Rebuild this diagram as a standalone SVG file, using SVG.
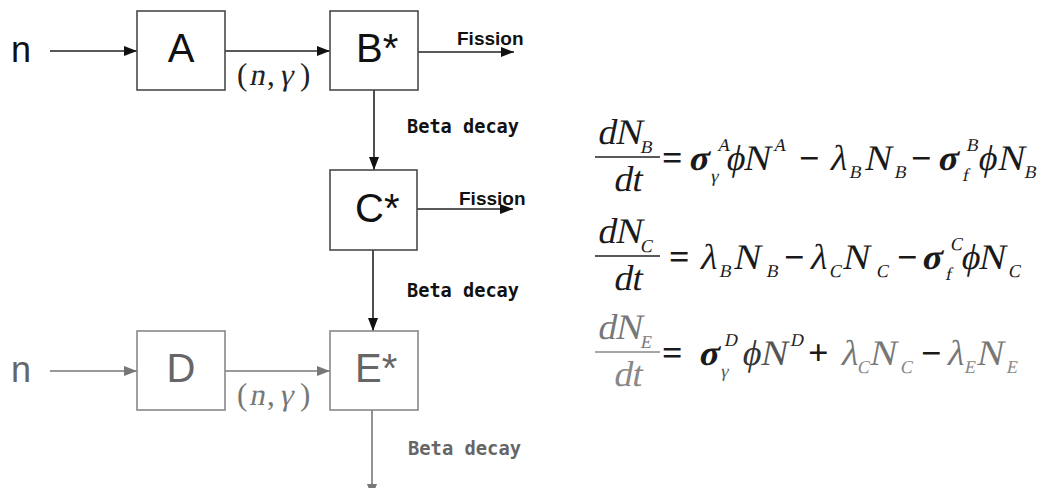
<svg xmlns="http://www.w3.org/2000/svg" width="1040" height="488" viewBox="0 0 1040 488">
<defs>
<marker id="ah" markerUnits="userSpaceOnUse" markerWidth="14" markerHeight="10" refX="13" refY="5" orient="auto"><path d="M0,0 L13,5 L0,10 z" fill="#111"/></marker>
<marker id="ahg" markerUnits="userSpaceOnUse" markerWidth="14" markerHeight="10" refX="13" refY="5" orient="auto"><path d="M0,0 L13,5 L0,10 z" fill="#777"/></marker>
<style>
.box{fill:#fff;stroke:#4a4a4a;stroke-width:1.6}
.boxg{fill:#fff;stroke:#888;stroke-width:1.6}
.ln{fill:none;stroke:#222;stroke-width:1.6}
.lng{fill:none;stroke:#777;stroke-width:1.6}
.big{font-family:"Liberation Sans",Arial,sans-serif;font-size:40px;fill:#111}
.bigg{font-family:"Liberation Sans",Arial,sans-serif;font-size:40px;fill:#666}
.n{font-family:"Liberation Sans",Arial,sans-serif;font-size:36px;fill:#111}
.ng{font-family:"Liberation Sans",Arial,sans-serif;font-size:36px;fill:#666}
.fis{font-family:"Liberation Sans",Arial,sans-serif;font-size:19px;font-weight:bold;fill:#111}
.beta{font-family:"DejaVu Sans Mono","Liberation Mono",monospace;font-size:20px;font-weight:bold;fill:#111}
.betag{font-family:"DejaVu Sans Mono","Liberation Mono",monospace;font-size:20px;font-weight:bold;fill:#666}
.ng2{font-family:"Liberation Serif","Times New Roman",serif;font-size:31px;fill:#222}
.ng2g{font-family:"Liberation Serif","Times New Roman",serif;font-size:31px;fill:#777}
.eq{font-family:"Liberation Serif","Times New Roman",serif;font-size:36px;fill:#1a1a1a}
.op{font-weight:bold}
.s{font-size:18px}
.gk{font-weight:bold}
.bar{stroke:#222;stroke-width:1.6}
.g5{fill:#555}.g7{fill:#777}.g8{fill:#888}.g2{fill:#222}.g3{fill:#333}
</style>
</defs>

<g id="connectors">
<path class="ln" d="M50,51 H137" marker-end="url(#ah)"/>
<path class="ln" d="M225,51 H330" marker-end="url(#ah)"/>
<path class="ln" d="M418,52 H514" marker-end="url(#ah)"/>
<path class="ln" d="M374,90 V170" marker-end="url(#ah)"/>
<path class="ln" d="M417,209 H513" marker-end="url(#ah)"/>
<path class="ln" d="M373,250 V331" marker-end="url(#ah)"/>
<path class="lng" d="M50,371 H137" marker-end="url(#ahg)"/>
<path class="lng" d="M225,371 H330" marker-end="url(#ahg)"/>
<path class="lng" d="M372,410 V497" marker-end="url(#ahg)"/>
</g>

<g id="labels">
<text class="n" x="11" y="62">n</text>
<text class="ng" x="11" y="382">n</text>
<text class="ng2" x="237" y="85">(</text>
<text class="ng2" x="249" y="85" transform="matrix(1 0 -0.2 1 17 0)">n</text>
<text class="ng2" x="267" y="85">,</text>
<text class="ng2" x="279" y="85" transform="matrix(1 0 -0.2 1 17 0)">γ</text>
<text class="ng2" x="300" y="85">)</text>
<text class="ng2g" x="237" y="405">(</text>
<text class="ng2g" x="249" y="405" transform="matrix(1 0 -0.2 1 81 0)">n</text>
<text class="ng2g" x="267" y="405">,</text>
<text class="ng2g" x="279" y="405" transform="matrix(1 0 -0.2 1 81 0)">γ</text>
<text class="ng2g" x="300" y="405">)</text>
<text class="fis" x="457" y="45">Fission</text>
<text class="fis" x="459" y="205">Fission</text>
<text class="beta" x="407" y="133" textLength="112" lengthAdjust="spacingAndGlyphs">Beta decay</text>
<text class="beta" x="407" y="297" textLength="112" lengthAdjust="spacingAndGlyphs">Beta decay</text>
<text class="betag" x="408" y="455" textLength="113" lengthAdjust="spacingAndGlyphs">Beta decay</text>
</g>

<g id="node-A"><rect class="box" x="137" y="11" width="88" height="79"/><text class="big" x="181" y="62" text-anchor="middle">A</text></g>
<g id="node-B"><rect class="box" x="330" y="11" width="88" height="79"/><text class="big" x="356" y="62">B*</text></g>
<g id="node-C"><rect class="box" x="330" y="170" width="87" height="80"/><text class="big" x="355" y="222">C*</text></g>
<g id="node-D"><rect class="boxg" x="137" y="331" width="88" height="79"/><text class="bigg" x="181" y="382" text-anchor="middle">D</text></g>
<g id="node-E"><rect class="boxg" x="330" y="331" width="88" height="79"/><text class="bigg" x="355" y="382">E*</text></g>

<g id="equations">
<!-- eq1 -->
<text class="eq" x="597" y="144" transform="matrix(1 0 -0.2 1 28.8 0)">dN</text>
<text class="eq s" x="640" y="153" transform="matrix(1 0 -0.2 1 30.6 0)">B</text>
<line class="bar" x1="595" y1="157" x2="660" y2="157"/>
<text class="eq" x="613" y="191" transform="matrix(1 0 -0.2 1 38.2 0)">dt</text>
<text class="eq op" x="662" y="170">=</text>
<text class="eq gk" x="688" y="170" transform="matrix(1 0 -0.2 1 34 0)">σ</text>
<text class="eq s" x="710" y="182" transform="matrix(1 0 -0.2 1 36.4 0)">γ</text>
<text class="eq s" x="717" y="151" transform="matrix(1 0 -0.2 1 30.2 0)">A</text>
<text class="eq" x="725" y="170" transform="matrix(1 0 -0.2 1 34 0)">ϕ</text>
<text class="eq" x="743" y="170" transform="matrix(1 0 -0.2 1 34 0)">N</text>
<text class="eq s" x="773" y="151" transform="matrix(1 0 -0.2 1 30.2 0)">A</text>
<text class="eq op" x="799" y="170">−</text>
<text class="eq" x="829" y="170" transform="matrix(1 0 -0.2 1 34 0)">λ</text>
<text class="eq s" x="849" y="178" transform="matrix(1 0 -0.2 1 35.6 0)">B</text>
<text class="eq" x="864" y="170" transform="matrix(1 0 -0.2 1 34 0)">N</text>
<text class="eq s" x="894" y="178" transform="matrix(1 0 -0.2 1 35.6 0)">B</text>
<text class="eq op" x="911" y="170">−</text>
<text class="eq gk" x="937" y="170" transform="matrix(1 0 -0.2 1 34 0)">σ</text>
<text class="eq s" x="966" y="151" transform="matrix(1 0 -0.2 1 30.2 0)">B</text>
<text class="eq s" x="962" y="181" transform="matrix(1 0 -0.2 1 36.2 0)">f</text>
<text class="eq" x="977" y="170" transform="matrix(1 0 -0.2 1 34 0)">ϕ</text>
<text class="eq" x="997" y="170" transform="matrix(1 0 -0.2 1 34 0)">N</text>
<text class="eq s" x="1024" y="178" transform="matrix(1 0 -0.2 1 35.6 0)">B</text>
<!-- eq2 -->
<text class="eq" x="597" y="243" transform="matrix(1 0 -0.2 1 48.6 0)">dN</text>
<text class="eq s" x="640" y="252" transform="matrix(1 0 -0.2 1 50.4 0)">C</text>
<line class="bar" x1="595" y1="256" x2="660" y2="256"/>
<text class="eq" x="613" y="290" transform="matrix(1 0 -0.2 1 58 0)">dt</text>
<text class="eq op" x="669" y="269">=</text>
<text class="eq" x="699" y="269" transform="matrix(1 0 -0.2 1 53.8 0)">λ</text>
<text class="eq s" x="719" y="277" transform="matrix(1 0 -0.2 1 55.4 0)">B</text>
<text class="eq" x="733" y="269" transform="matrix(1 0 -0.2 1 53.8 0)">N</text>
<text class="eq s" x="766" y="277" transform="matrix(1 0 -0.2 1 55.4 0)">B</text>
<text class="eq op" x="784" y="269">−</text>
<text class="eq" x="809" y="269" transform="matrix(1 0 -0.2 1 53.8 0)">λ</text>
<text class="eq s" x="829" y="277" transform="matrix(1 0 -0.2 1 55.4 0)">C</text>
<text class="eq" x="842" y="269" transform="matrix(1 0 -0.2 1 53.8 0)">N</text>
<text class="eq s" x="876" y="277" transform="matrix(1 0 -0.2 1 55.4 0)">C</text>
<text class="eq op" x="897" y="269">−</text>
<text class="eq gk" x="921" y="269" transform="matrix(1 0 -0.2 1 53.8 0)">σ</text>
<text class="eq s" x="950" y="250" transform="matrix(1 0 -0.2 1 50 0)">C</text>
<text class="eq s" x="945" y="280" transform="matrix(1 0 -0.2 1 56 0)">f</text>
<text class="eq" x="960" y="269" transform="matrix(1 0 -0.2 1 53.8 0)">ϕ</text>
<text class="eq" x="978" y="269" transform="matrix(1 0 -0.2 1 53.8 0)">N</text>
<text class="eq s" x="1008" y="277" transform="matrix(1 0 -0.2 1 55.4 0)">C</text>
<!-- eq3 -->
<text class="eq g7" x="597" y="339" transform="matrix(1 0 -0.2 1 67.8 0)">dN</text>
<text class="eq s g7" x="640" y="348" transform="matrix(1 0 -0.2 1 69.6 0)">E</text>
<line class="bar" x1="595" y1="352" x2="660" y2="352" style="stroke:#888"/>
<text class="eq g8" x="613" y="386" transform="matrix(1 0 -0.2 1 77.2 0)">dt</text>
<text class="eq op" x="662" y="365">=</text>
<text class="eq gk" x="698" y="365" transform="matrix(1 0 -0.2 1 73 0)">σ</text>
<text class="eq s g5" x="720" y="377" transform="matrix(1 0 -0.2 1 75.4 0)">γ</text>
<text class="eq s g2" x="724" y="346" transform="matrix(1 0 -0.2 1 69.2 0)">D</text>
<text class="eq g3" x="741" y="365" transform="matrix(1 0 -0.2 1 73 0)">ϕ</text>
<text class="eq g5" x="760" y="365" transform="matrix(1 0 -0.2 1 73 0)">N</text>
<text class="eq s g2" x="790" y="346" transform="matrix(1 0 -0.2 1 69.2 0)">D</text>
<text class="eq op" x="808" y="365">+</text>
<text class="eq g7" x="840" y="365" transform="matrix(1 0 -0.2 1 73 0)">λ</text>
<text class="eq s g8" x="857" y="373" transform="matrix(1 0 -0.2 1 74.6 0)">C</text>
<text class="eq g7" x="869" y="365" transform="matrix(1 0 -0.2 1 73 0)">N</text>
<text class="eq s g8" x="900" y="373" transform="matrix(1 0 -0.2 1 74.6 0)">C</text>
<text class="eq op" x="921" y="365">−</text>
<text class="eq g7" x="946" y="365" transform="matrix(1 0 -0.2 1 73 0)">λ</text>
<text class="eq s g8" x="964" y="373" transform="matrix(1 0 -0.2 1 74.6 0)">E</text>
<text class="eq g7" x="976" y="365" transform="matrix(1 0 -0.2 1 73 0)">N</text>
<text class="eq s g8" x="1006" y="373" transform="matrix(1 0 -0.2 1 74.6 0)">E</text>
</g>
</svg>
